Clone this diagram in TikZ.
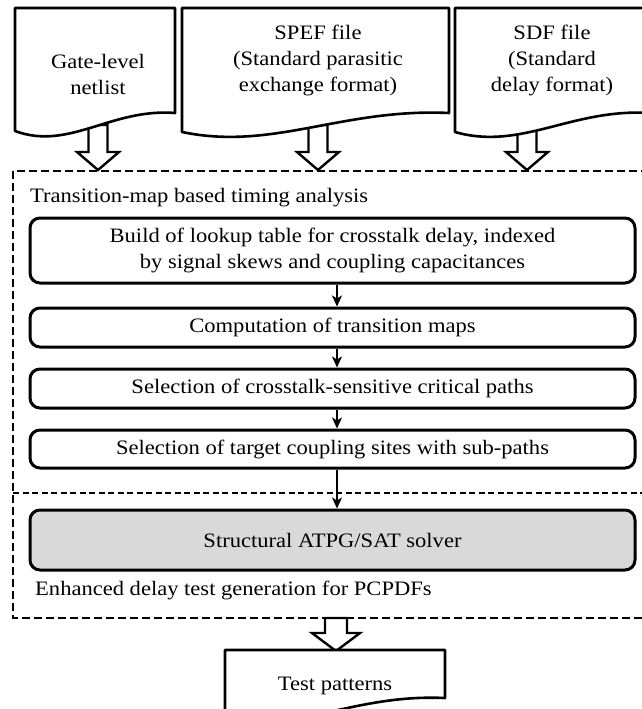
\documentclass[tikz,border=0pt]{standalone}
\usepackage{fontspec}
\setmainfont[FakeStretch=1.1]{Liberation Serif}
\usetikzlibrary{arrows.meta,calc}

\begin{document}
\begin{tikzpicture}[x=1pt,y=-1pt,
  doc/.style={draw=black,line width=2.6pt,fill=white,line join=round},
  lbl/.style={font=\fontsize{20.5}{26}\selectfont,align=center,inner sep=0pt},
  stepbox/.style={lbl,draw=black,line width=3pt,rounded corners=10pt,fill=white},
  solver/.style={stepbox,fill=black!15},
  flow/.style={-{Stealth[length=11pt,width=10pt,inset=3pt]},line width=1.9pt},
  hollow/.style={draw=black,line width=2.4pt,fill=white,line join=miter},
  frame/.style={line width=2.7pt,dash pattern=on 8pt off 4pt},
  sep/.style={line width=1.7pt,dash pattern=on 6pt off 3.5pt},
  pics/blockarrow/.style args={#1/#2/#3}{code={
    % #1 shaft length, #2 shaft half width, #3 head half width
    \draw[hollow] (-#2,0) -- (#2,0) -- (#2,#1) -- (#3,#1) -- (0,#1+18)
      -- (-#3,#1) -- (-#2,#1) -- cycle;
  }},
]
\clip (0,0) rectangle (642,709);
\fill[white] (0,0) rectangle (642,709);

% outer dashed frame and the separator between the two stages
\draw[frame] (13,171) rectangle (670,618);
\draw[sep] (13,493) -- (670,493);

% hollow arrows from the input files into the frame
\pic at (98,125) {blockarrow=27/9.5/21};
\pic at (318,125) {blockarrow=27/9.5/21};
\pic at (527,125) {blockarrow=27/9.5/21};

% input files
\draw[doc] (15,8) -- (175,8) -- (175,113)
  .. controls (111,108) and (69,151) .. (15,131) -- cycle;
\draw[doc] (182,8) -- (449,8) -- (449,113)
  .. controls (342,108) and (273,151) .. (182,132) -- cycle;
\draw[doc] (455,8) -- (650,8) -- (650,113)
  .. controls (572,108) and (521,151) .. (455,132) -- cycle;
\node[lbl] (gate) at (98,74) {Gate-level\\netlist};
\node[lbl] (spef) at (318,60) {SPEF file\\(Standard parasitic\\exchange format)};
\node[lbl] (sdf) at (552,60) {SDF file\\(Standard\\delay format)};

% timing analysis stage
\node[lbl,anchor=west] (ta) at (30,198) {Transition-map based timing analysis};
\node[stepbox,minimum width=605pt,minimum height=65pt] (b1) at (332.5,250.5)
  {Build of lookup table for crosstalk delay, indexed\\by signal skews and coupling capacitances};
\node[stepbox,minimum width=605pt,minimum height=39pt] (b2) at (332.5,327.5)
  {Computation of transition maps};
\node[stepbox,minimum width=605pt,minimum height=39pt] (b3) at (332.5,388.5)
  {Selection of crosstalk-sensitive critical paths};
\node[stepbox,minimum width=605pt,minimum height=38pt] (b4) at (332.5,449)
  {Selection of target coupling sites with sub-paths};

% test generation stage
\node[solver,minimum width=605pt,minimum height=60pt] (atpg) at (332.5,540)
  {Structural ATPG/SAT solver};
\node[lbl,anchor=west] (tg) at (35,590) {Enhanced delay test generation for PCPDFs};

\draw[flow] ([xshift=4.5pt]b1.south) -- ([xshift=4.5pt]b2.north);
\draw[flow] ([xshift=4.5pt]b2.south) -- ([xshift=4.5pt]b3.north);
\draw[flow] ([xshift=4.5pt]b3.south) -- ([xshift=4.5pt]b4.north);
\draw[flow] ([xshift=4.5pt]b4.south) -- ([xshift=4.5pt]atpg.north);

% output
\pic at (336,618) {blockarrow=15/11/24};
\draw[doc] (225,650) -- (445,650) -- (445,698)
  .. controls (357,694) and (303,730) .. (225,722) -- cycle;
\node[lbl] (out) at (335,686) {Test patterns};
\end{tikzpicture}
\end{document}
